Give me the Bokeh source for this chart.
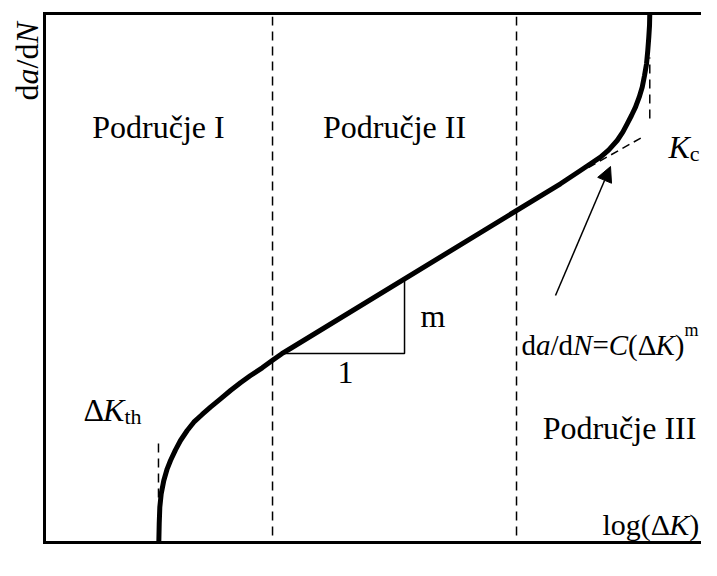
import numpy as np
from bokeh.plotting import figure
from bokeh.models import Range1d, Arrow, NormalHead
from bokeh.core.properties import value
from bokeh.embed import file_html
from bokeh.resources import INLINE

# ---- schematic data (relative units 0..100 on both log axes) ----
log_dK = [17.19, 17.25, 17.34, 17.55, 17.94, 18.45, 18.95, 19.70, 20.45, 21.46,
          22.45, 23.71, 24.96, 26.47, 27.97, 29.47, 30.98, 32.74, 34.24, 35.69,
          36.99, 77.59, 80.60, 82.11, 83.61, 84.86, 86.12, 86.96, 87.62, 88.27,
          88.87, 89.43, 89.88, 90.23, 90.53, 90.72, 90.87, 90.98, 91.02]
log_dadN = [0.0, 3.53, 6.67, 9.21, 11.72, 13.93, 15.50, 17.52, 19.28, 21.17,
            22.74, 24.20, 25.58, 27.16, 28.73, 30.19, 31.57, 33.02, 34.40, 35.69,
            36.67, 67.81, 70.32, 71.59, 72.84, 74.23, 75.99, 77.56, 79.15, 80.72,
            82.29, 84.18, 86.07, 88.28, 90.49, 93.01, 95.52, 97.73, 100.0]
region_bounds = [34.29, 70.98]          # boundaries of regions I/II and II/III
region_span = [1.3, 99.4]
dK_th = 17.14
dK_th_span = [8.51, 19.85]
K_c = 91.02
K_c_span = [80.15, 91.68]
paris_x = [81.80, 90.08]
paris_y = [70.89, 76.75]
tri_x = [35.79, 54.14, 54.14]
tri_y = [35.73, 35.73, 49.91]
region_labels = ["Područje I", "Područje II", "Područje III"]


# pixel helpers (picture pixel -> schematic units)
def px2x(px):
    return (px - 44) / 6.65


def py2y(py):
    return (542 - py) / 5.29


W, H = 701, 560
p = figure(width=W, height=H,
           x_range=Range1d(px2x(0), px2x(W)),
           y_range=Range1d(py2y(H), py2y(0)),
           output_backend="svg", toolbar_location=None,
           x_axis_type=None, y_axis_type=None,
           min_border=0, min_border_left=0, min_border_right=0,
           min_border_top=0, min_border_bottom=0)
p.outline_line_color = None
p.background_fill_color = "white"
p.border_fill_color = "white"

# frame (left, top, bottom)
p.multi_line(xs=[[0, 0], [0, 105], [0, 105]], ys=[[0, 100], [100, 100], [0, 0]],
             line_color="black", line_width=3, line_cap="square")

DASH = "9 6"
# region boundaries
p.multi_line(xs=[[b, b] for b in region_bounds], ys=[region_span, region_span],
             line_color="black", line_width=1.5, line_dash=DASH)
# threshold and critical
p.multi_line(xs=[[dK_th, dK_th], [K_c, K_c]], ys=[dK_th_span, K_c_span],
             line_color="black", line_width=1.5, line_dash=DASH)
# Paris tangent
p.line(paris_x, paris_y, line_color="black", line_width=1.5, line_dash="8 5")
# slope triangle
p.line(tri_x, tri_y, line_color="black", line_width=1.5)

# crack growth curve
p.line(log_dK, log_dadN, line_color="black", line_width=5, line_join="round", line_cap="butt")

# arrow
p.add_layout(Arrow(x_start=px2x(555), y_start=py2y(295), x_end=px2x(610), y_end=py2y(166),
                   line_color="black", line_width=1.5,
                   end=NormalHead(size=15, fill_color="black", line_color="black", line_width=1)))

FONT = value("Liberation Serif")
BL = 0.3   # baseline correction (fraction of font size)
W_REG = {'d': .5, 'a': .444, '/': .278, '=': .564, '(': .333, ')': .333, 'Δ': .612,
         'l': .278, 'o': .5, 'g': .5, 't': .278, 'h': .5, 'c': .444, 'm': .778, '1': .5}
W_IT = {'a': .5, 'N': .667, 'C': .667, 'K': .667}


def put(pieces, px, py, vertical=False):
    for txt, size, italic, shift in pieces:
        table = W_IT if italic else W_REG
        w = sum(table.get(ch, 0.5) for ch in txt) * size
        if vertical:
            x, y, ang = px2x(px - shift - BL * size), py2y(py), np.pi / 2
        else:
            x, y, ang = px2x(px), py2y(py - shift - BL * size), 0
        p.text(x=[x], y=[y], text=[txt], angle=ang, text_font=FONT,
               text_font_size=f"{size}px",
               text_font_style="italic" if italic else "normal",
               text_align="left", text_baseline="alphabetic", text_color="black")
        if vertical:
            py -= w
        else:
            px += w


def label(txt, px, py, align="left", size=32):
    p.text(x=[px2x(px)], y=[py2y(py - BL * size)], text=[txt], text_font=FONT,
           text_font_size=f"{size}px", text_align=align,
           text_baseline="alphabetic", text_color="black")


label(region_labels[0], 158, 136, "center")
label(region_labels[1], 394, 136, "center")
label(region_labels[2], 619, 437, "center")
label("m", 420, 325)
label("1", 345, 382, "center")

put([("d", 32, False, 0), ("a", 32, True, 0), ("/", 32, False, 0),
     ("d", 32, False, 0), ("N", 32, True, 0)], 36, 100, vertical=True)
put([("log(Δ", 30, False, 0), ("K", 30, True, 0), (")", 30, False, 0)], 602, 533)
put([("K", 32, True, 0), ("c", 22, False, -4)], 668, 156)
put([("Δ", 32, False, 0), ("K", 32, True, 0), ("th", 22, False, -4)], 83, 419)
put([("d", 29, False, 0), ("a", 29, True, 0), ("/", 29, False, 0), ("d", 29, False, 0),
     ("N", 29, True, 0), ("=", 29, False, 0), ("C", 29, True, 0), ("(Δ", 29, False, 0),
     ("K", 29, True, 0), (")", 29, False, 0), ("m", 18, False, 18)], 521, 353)

open("out.html", "w").write(file_html(p, INLINE))
